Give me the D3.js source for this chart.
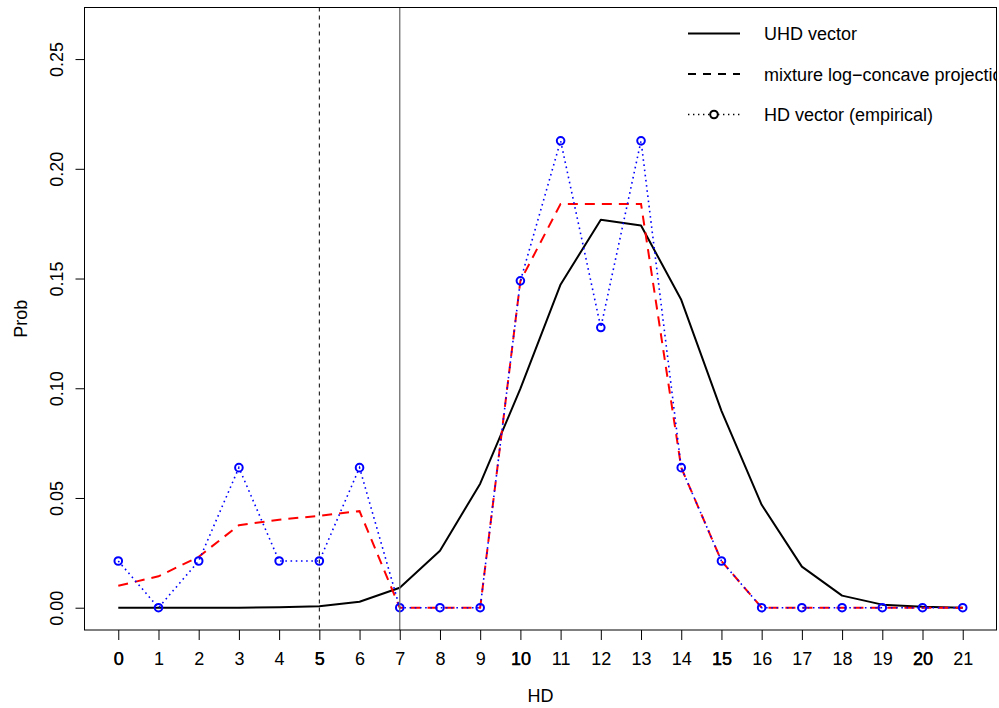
<!DOCTYPE html>
<html>
<head>
<meta charset="utf-8">
<script src="https://cdn.jsdelivr.net/npm/d3@7"></script>
<style>
  html, body { margin: 0; padding: 0; background: #fff; }
  svg { display: block; font-family: "Liberation Sans", Arial, Helvetica, sans-serif; }
</style>
</head>
<body>
<svg id="chart" width="999" height="708"></svg>
<script>
// ---- data ----
const hd = d3.range(0, 22);
const uhdVector = [0, 0, 0, 0, 0.0002, 0.0007, 0.0027, 0.0091, 0.026, 0.0565, 0.0998, 0.1473, 0.1768, 0.1742, 0.1403, 0.0897, 0.0469, 0.0187, 0.0055, 0.0014, 0.0004, 0];
const mixtureLC = [0.0100, 0.0143, 0.0232, 0.0376, 0.0401, 0.0419, 0.0440, 0, 0, 0, 0.1489, 0.1840, 0.1840, 0.1840, 0.0638, 0.0213, 0, 0, 0, 0, 0, 0];
const hdCounts = [1, 0, 1, 3, 1, 1, 3, 0, 0, 0, 7, 10, 6, 10, 3, 1, 0, 0, 0, 0, 0, 0];
const hdTotal = 47;
const hdEmpirical = hdCounts.map(c => c / hdTotal);
const xTicks = d3.range(0, 22);
const darkTicks = [0, 5, 10, 15, 20];
const yTicks = [0, 0.05, 0.10, 0.15, 0.20, 0.25];
const vDashed = 5;
const vSolid = 7;
const legendLabels = ["UHD vector", "mixture log\u2212concave projection", "HD vector (empirical)"];

// ---- layout ----
const box = { left: 84.5, right: 996.5, top: 7.5, bottom: 630 };
const x = d3.scaleLinear().domain([-0.84, 21.84]).range([box.left, box.right]);
const y = d3.scaleLinear().domain([-0.01016, 0.2735]).range([box.bottom, box.top]);

const svg = d3.select("#chart");
const FS = 18;

svg.append("defs").append("clipPath").attr("id", "plotclip")
  .append("rect").attr("x", box.left).attr("y", box.top)
  .attr("width", box.right - box.left).attr("height", box.bottom - box.top);

const plot = svg.append("g").attr("clip-path", "url(#plotclip)");
const line = d3.line().x((d, i) => x(hd[i])).y(d => y(d));

// UHD vector
plot.append("path").datum(uhdVector).attr("d", line)
  .attr("fill", "none").attr("stroke", "#000").attr("stroke-width", 2)
  .attr("stroke-linejoin", "round");

// mixture log-concave projection
plot.append("path").datum(mixtureLC).attr("d", line)
  .attr("fill", "none").attr("stroke", "#ff0000").attr("stroke-width", 2)
  .attr("stroke-dasharray", "10,7");

// HD vector empirical
plot.append("path").datum(hdEmpirical).attr("d", line)
  .attr("fill", "none").attr("stroke", "#0000ff").attr("stroke-width", 1.6)
  .attr("stroke-dasharray", "1.6,3.6");
plot.selectAll("circle.hd").data(hdEmpirical).enter().append("circle")
  .attr("class", "hd")
  .attr("cx", (d, i) => x(hd[i])).attr("cy", d => y(d)).attr("r", 3.8)
  .attr("fill", "none").attr("stroke", "#0000ff").attr("stroke-width", 2);

// vertical reference lines
plot.append("line").attr("x1", x(vDashed)).attr("x2", x(vDashed))
  .attr("y1", box.top).attr("y2", box.bottom)
  .attr("stroke", "#000").attr("stroke-width", 1).attr("stroke-dasharray", "4,4");
plot.append("line").attr("x1", x(vSolid)).attr("x2", x(vSolid))
  .attr("y1", box.top).attr("y2", box.bottom)
  .attr("stroke", "#6e6e6e").attr("stroke-width", 1.3);

// legend
const legX0 = 688, legX1 = 740, legTx = 764;
const legY = [33.5, 74, 114.5];
const leg = plot.append("g");
leg.append("line").attr("x1", legX0).attr("x2", legX1).attr("y1", legY[0]).attr("y2", legY[0])
  .attr("stroke", "#000").attr("stroke-width", 2);
leg.append("line").attr("x1", legX0).attr("x2", legX1).attr("y1", legY[1]).attr("y2", legY[1])
  .attr("stroke", "#000").attr("stroke-width", 2).attr("stroke-dasharray", "8,7");
leg.append("line").attr("x1", legX0).attr("x2", legX1).attr("y1", legY[2]).attr("y2", legY[2])
  .attr("stroke", "#000").attr("stroke-width", 1.4).attr("stroke-dasharray", "1.4,3.6");
leg.append("circle").attr("cx", (legX0 + legX1) / 2).attr("cy", legY[2]).attr("r", 3.8)
  .attr("fill", "#fff").attr("stroke", "#000").attr("stroke-width", 2);
leg.selectAll("text").data(legendLabels).enter().append("text")
  .attr("x", legTx).attr("y", (d, i) => legY[i] + 6.5)
  .attr("font-size", FS).attr("fill", "#000").text(d => d);

// box
svg.append("rect").attr("x", box.left).attr("y", box.top)
  .attr("width", box.right - box.left).attr("height", box.bottom - box.top)
  .attr("fill", "none").attr("stroke", "#000").attr("stroke-width", 1);

// x axis
const xAxis = d3.axisBottom(x).tickValues(xTicks).tickSize(10).tickPadding(12).tickFormat(d3.format("d"));
const gx = svg.append("g").attr("transform", `translate(0,${box.bottom})`).call(xAxis);
gx.select(".domain").remove();
gx.selectAll("line").attr("stroke", "#000");
gx.selectAll("text").attr("font-size", FS).attr("font-family", null).attr("fill", "#000").attr("dy", "0.71em");
// emphasised labels (overdrawn in original)
const gx2 = svg.append("g").attr("transform", `translate(0,${box.bottom})`)
  .call(d3.axisBottom(x).tickValues(darkTicks).tickSize(10).tickPadding(12).tickFormat(d3.format("d")));
gx2.select(".domain").remove();
gx2.selectAll("line").remove();
gx2.selectAll("text").attr("font-size", FS).attr("font-family", null).attr("fill", "#000").attr("dy", "0.71em")
  .attr("stroke", "#000").attr("stroke-width", 0.25);

// y axis
const yAxis = d3.axisLeft(y).tickValues(yTicks).tickSize(9).tickPadding(0).tickFormat(d3.format(".2f"));
const gy = svg.append("g").attr("transform", `translate(${box.left},0)`).call(yAxis);
gy.select(".domain").remove();
gy.selectAll("line").attr("stroke", "#000");
gy.selectAll("text").attr("font-size", FS).attr("font-family", null).attr("fill", "#000")
  .attr("x", null).attr("dy", null)
  .attr("text-anchor", "middle")
  .attr("transform", "translate(-22,0) rotate(-90)");

// axis titles
svg.append("text").attr("x", (box.left + box.right) / 2).attr("y", 702)
  .attr("text-anchor", "middle").attr("font-size", FS).text("HD");
svg.append("text").attr("transform", `translate(27,${(box.top + box.bottom) / 2}) rotate(-90)`)
  .attr("text-anchor", "middle").attr("font-size", FS).text("Prob");
</script>
</body>
</html>
